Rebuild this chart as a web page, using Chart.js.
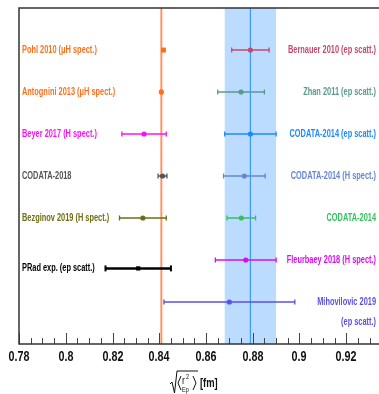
<!DOCTYPE html>
<html>
<head>
<meta charset="utf-8">
<script src="https://cdn.jsdelivr.net/npm/chart.js@4/dist/chart.umd.min.js"></script>
<style>
  html, body { margin: 0; padding: 0; background: #fff; overflow: hidden; }
  #wrap { width: 420px; height: 394px; }
</style>
</head>
<body>
<div id="wrap"><canvas id="chart" width="420" height="394"></canvas></div>
<script>
// measurements of the proton charge radius [fm]
const names = [
  'Pohl 2010 (μH spect.)', 'Antognini 2013 (μH spect.)', 'Beyer 2017 (H spect.)',
  'CODATA-2018', 'Bezginov 2019 (H spect.)', 'PRad exp. (ep scatt.)',
  'Bernauer 2010 (ep scatt.)', 'Zhan 2011 (ep scatt.)', 'CODATA-2014 (ep scatt.)',
  'CODATA-2014 (H spect.)', 'CODATA-2014', 'Fleurbaey 2018 (H spect.)',
  'Mihovilovic 2019\n(ep scatt.)'
];
const radii  = [0.8418, 0.8409, 0.8335, 0.8414, 0.833, 0.831, 0.879, 0.875, 0.879, 0.8764, 0.8751, 0.877, 0.870];
const errors = [0.0007, 0.0004, 0.0095, 0.0019, 0.010, 0.014, 0.008, 0.010, 0.011, 0.0089, 0.0061, 0.013, 0.028];
const rows   = [7, 6, 5, 4, 3, 1.8, 7, 6, 5, 4, 3, 2, 1];
const sides  = ['left', 'left', 'left', 'left', 'left', 'left', 'right', 'right', 'right', 'right', 'right', 'right', 'right'];
const colors = ['#ff6f1a', '#ff6f1a', '#ff10f0', '#555555', '#6e6e14', '#000000',
                '#c8486a', '#5a9a8c', '#1e88ff', '#6686d4', '#36c060', '#d80cf4', '#5a50e6'];

// reference lines: muonic hydrogen value and CODATA-2014 (ep) band
const muonRef = 0.8409;
const bandCenter = 0.879;
const bandHalf = 0.011;

const xMin = 0.78, xMax = 0.94;
const tickStep = 0.005, labelStep = 0.02;

const isMajor = v => Math.abs(v / labelStep - Math.round(v / labelStep)) < 1e-6;
const face = '"Liberation Sans", Arial, sans-serif';

// condensed text: fonts here have no narrow face, so squeeze horizontally
function squeezed(ctx, text, x, y, align, sx) {
  ctx.save();
  ctx.translate(x, y);
  ctx.scale(sx, 1);
  ctx.textAlign = align;
  ctx.fillText(text, 0, 0);
  ctx.restore();
}

const datasets = [];
names.forEach((n, i) => {
  const bold = i === 5;
  datasets.push({
    data: [{ x: radii[i] - errors[i], y: rows[i] }, { x: radii[i] + errors[i], y: rows[i] }],
    showLine: true,
    borderColor: colors[i],
    borderWidth: bold ? 2.5 : 1.5,
    pointStyle: 'line',
    rotation: 90,
    pointRadius: bold ? 3 : 2.5,
    pointBorderColor: colors[i],
    pointBorderWidth: bold ? 2 : 1.3
  });
  datasets.push({
    data: [{ x: radii[i], y: rows[i] }],
    pointStyle: bold ? 'rect' : 'circle',
    pointRadius: bold ? 3 : 2.6,
    backgroundColor: colors[i],
    borderColor: colors[i],
    borderWidth: 0
  });
});

const decor = {
  id: 'decor',
  beforeDatasetsDraw(chart) {
    const { ctx, chartArea: a, scales: { x } } = chart;
    ctx.save();
    const b0 = x.getPixelForValue(bandCenter - bandHalf);
    const b1 = x.getPixelForValue(bandCenter + bandHalf);
    ctx.fillStyle = '#bcdcff';
    ctx.fillRect(b0, a.top, b1 - b0, a.bottom - a.top);
    ctx.strokeStyle = '#3a9aff';
    ctx.lineWidth = 1.2;
    let px = x.getPixelForValue(bandCenter);
    ctx.beginPath(); ctx.moveTo(px, a.top); ctx.lineTo(px, a.bottom); ctx.stroke();
    ctx.strokeStyle = 'rgba(255,110,50,0.75)';
    ctx.lineWidth = 2;
    px = x.getPixelForValue(muonRef);
    ctx.beginPath(); ctx.moveTo(px, a.top); ctx.lineTo(px, a.bottom); ctx.stroke();
    ctx.restore();
  },
  afterDatasetsDraw(chart) {
    const { ctx, chartArea: a, scales: { x, y } } = chart;
    ctx.save();
    // inward ticks and their labels
    ctx.strokeStyle = '#444';
    ctx.lineWidth = 1;
    ctx.fillStyle = '#111';
    ctx.font = 'bold 14px ' + face;
    ctx.textBaseline = 'middle';
    x.ticks.forEach(t => {
      const px = Math.round(x.getPixelForValue(t.value)) + 0.5;
      const major = isMajor(t.value);
      ctx.beginPath(); ctx.moveTo(px, a.bottom); ctx.lineTo(px, a.bottom - (major ? 11 : 6)); ctx.stroke();
      if (major) squeezed(ctx, String(Math.round(t.value * 100) / 100), px - 0.5, a.bottom + 13, 'center', 0.77);
    });
    // frame
    ctx.strokeStyle = '#333';
    ctx.lineWidth = 1.5;
    ctx.strokeRect(a.left, a.top, a.right - a.left, a.bottom - a.top);
    // measurement labels
    ctx.font = 'bold 10px ' + face;
    names.forEach((n, i) => {
      const py = y.getPixelForValue(rows[i]);
      ctx.fillStyle = colors[i];
      const tx = sides[i] === 'left' ? a.left + 3 : 376;
      n.split('\n').forEach((line, k) => squeezed(ctx, line, tx, py + k * 20, sides[i], 0.74));
    });
    // axis title  sqrt(<r^2_Ep>) [fm]
    ctx.strokeStyle = '#111';
    ctx.fillStyle = '#111';
    ctx.lineWidth = 1;
    ctx.beginPath();
    ctx.moveTo(170, 384); ctx.lineTo(172, 382); ctx.lineTo(174.5, 393);
    ctx.lineTo(177, 371); ctx.lineTo(198, 371);
    ctx.stroke();
    ctx.beginPath();
    ctx.moveTo(181, 376); ctx.lineTo(178, 383); ctx.lineTo(181, 390);
    ctx.moveTo(193, 376); ctx.lineTo(196, 383); ctx.lineTo(193, 390);
    ctx.stroke();
    ctx.textBaseline = 'alphabetic';
    ctx.font = '11px ' + face;
    squeezed(ctx, 'r', 182, 384, 'left', 0.8);
    ctx.font = '7px ' + face;
    squeezed(ctx, '2', 186, 379, 'left', 0.8);
    squeezed(ctx, 'Ep', 182, 392, 'left', 0.8);
    ctx.font = 'bold 12px ' + face;
    squeezed(ctx, '[fm]', 200, 387, 'left', 0.78);
    ctx.restore();
  }
};

new Chart(document.getElementById('chart'), {
  type: 'scatter',
  data: { datasets },
  plugins: [decor],
  options: {
    responsive: false,
    animation: false,
    events: [],
    layout: { padding: { left: 19, top: 8, right: 27, bottom: 42 } },
    plugins: { legend: { display: false }, tooltip: { enabled: false } },
    scales: {
      x: {
        type: 'linear',
        min: xMin,
        max: xMax,
        grid: { display: false },
        border: { display: false },
        ticks: {
          display: false,
          stepSize: tickStep,
          maxTicksLimit: 100,
          autoSkip: false
        }
      },
      y: { type: 'linear', min: 0, max: 8, display: false }
    }
  }
});
</script>
</body>
</html>
